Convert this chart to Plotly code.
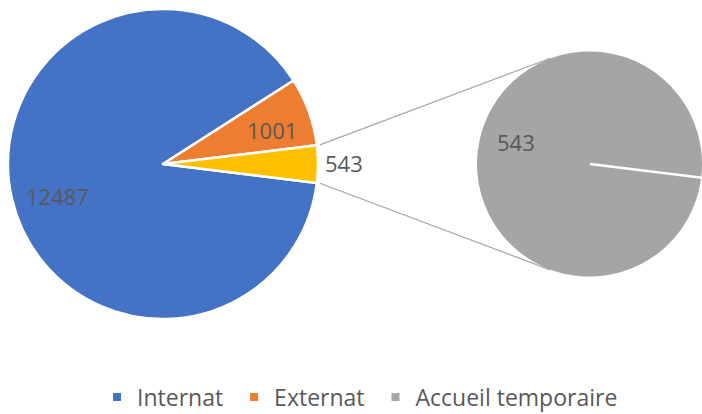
import math
import plotly.graph_objects as go

# ---- data ----
main_labels = ["Internat", "Externat", "Accueil temporaire"]
main_values = [12487, 1001, 543]
main_colors = ["#4472C4", "#ED7D31", "#FFC000"]

sub_labels = ["Accueil temporaire"]
sub_values = [543]
sub_colors = ["#A5A5A5"]

legend_labels = ["Internat", "Externat", "Accueil temporaire"]
legend_colors = ["#4472C4", "#ED7D31", "#A5A5A5"]

# ---- geometry / style ----
W, H = 702, 414
ROT = 97  # degrees clockwise from 12 o'clock
FONT = "Open Sans"
TXT = "#595959"

mc = (163, 164); mr = 155   # main pie centre/radius (px)
sc = (590, 164); sr = 113   # second pie centre/radius (px)
# data-label anchor positions (px), one per main slice, and for the second pie
main_label_pos = [(58, 196, "center"), (272, 130, "center"), (323, 163, "left")]
sub_label_pos = (516, 142)
legend_pad = ["\u00a0", "\u00a0", ""]   # extra spacing after legend entries

def px2paper(x, y):
    return x / W, 1 - y / H

def domain(c, r):
    x0, y0 = px2paper(c[0] - r, c[1] + r)
    x1, y1 = px2paper(c[0] + r, c[1] - r)
    return dict(x=[max(0, x0), min(1, x1)], y=[max(0, y0), min(1, y1)])

def pt_at(c, r, ang_deg):
    a = math.radians(ang_deg)
    return c[0] + r * math.sin(a), c[1] - r * math.cos(a)

fig = go.Figure()

fig.add_trace(go.Pie(
    labels=main_labels, values=main_values, sort=False,
    direction="clockwise", rotation=ROT,
    marker=dict(colors=main_colors, line=dict(color="white", width=2.5)),
    textinfo="none",
    domain=domain(mc, mr), showlegend=False, hoverinfo="label+value",
))

fig.add_trace(go.Pie(
    labels=sub_labels, values=sub_values, sort=False,
    direction="clockwise", rotation=ROT,
    marker=dict(colors=sub_colors, line=dict(color="white", width=0)),
    textinfo="none",
    domain=domain(sc, sr), showlegend=False, hoverinfo="label+value",
))

for lab, col, pad in zip(legend_labels, legend_colors, legend_pad):
    fig.add_trace(go.Scatter(
        x=[None], y=[None], mode="markers", name=lab + pad,
        marker=dict(symbol="square", size=8, color=col),
    ))

annotations = []
for v, (x, y, anc) in zip(main_values, main_label_pos):
    px, py = px2paper(x, y)
    annotations.append(dict(xref="paper", yref="paper", x=px, y=py,
                            xanchor=anc, yanchor="middle",
                            text=str(v), showarrow=False,
                            font=dict(family=FONT, size=22, color=TXT)))
lx, ly = px2paper(*sub_label_pos)
annotations.append(dict(xref="paper", yref="paper", x=lx, y=ly,
                        xanchor="center", yanchor="middle",
                        text=str(sub_values[0]), showarrow=False,
                        font=dict(family=FONT, size=22, color=TXT)))

# connector lines from the "other" slice edges to tangents of the second pie
total = sum(main_values)
start = ROT + 360 * sum(main_values[:-1]) / total
end = ROT + 360

def tangent(p, c, r, upper):
    dx, dy = c[0] - p[0], c[1] - p[1]
    d = math.hypot(dx, dy)
    base = math.atan2(dy, dx)
    off = math.asin(r / d)
    a = base - off if upper else base + off
    L = math.sqrt(d * d - r * r)
    return p[0] + L * math.cos(a), p[1] + L * math.sin(a)

shapes = []
for ang, upper in ((start, True), (end, False)):
    p = pt_at(mc, mr + 3, ang)
    q = tangent(p, sc, sr, upper)
    x0, y0 = px2paper(*p); x1, y1 = px2paper(*q)
    shapes.append(dict(type="line", xref="paper", yref="paper",
                       x0=x0, y0=y0, x1=x1, y1=y1,
                       line=dict(color="#A6A6A6", width=1.3)))

# slice boundary of the single slice in the second pie
p = pt_at(sc, sr + 20, ROT)
x0, y0 = px2paper(*sc); x1, y1 = px2paper(*p)
shapes.append(dict(type="line", xref="paper", yref="paper",
                   x0=x0, y0=y0, x1=x1, y1=y1,
                   line=dict(color="white", width=2.5)))

fig.update_layout(
    width=W, height=H,
    margin=dict(l=0, r=0, t=0, b=0, autoexpand=False),
    paper_bgcolor="white", plot_bgcolor="white",
    xaxis=dict(visible=False), yaxis=dict(visible=False),
    shapes=shapes, annotations=annotations,
    legend=dict(orientation="h", x=px2paper(97, 0)[0], xanchor="left",
                y=px2paper(0, 397)[1], yanchor="middle",
                font=dict(family=FONT, size=23, color=TXT),
                itemwidth=30, tracegroupgap=0),
)

fig.write_html("out.html", config={"displayModeBar": False},
               post_script="document.body.style.margin='0';document.body.style.overflow='hidden';")
